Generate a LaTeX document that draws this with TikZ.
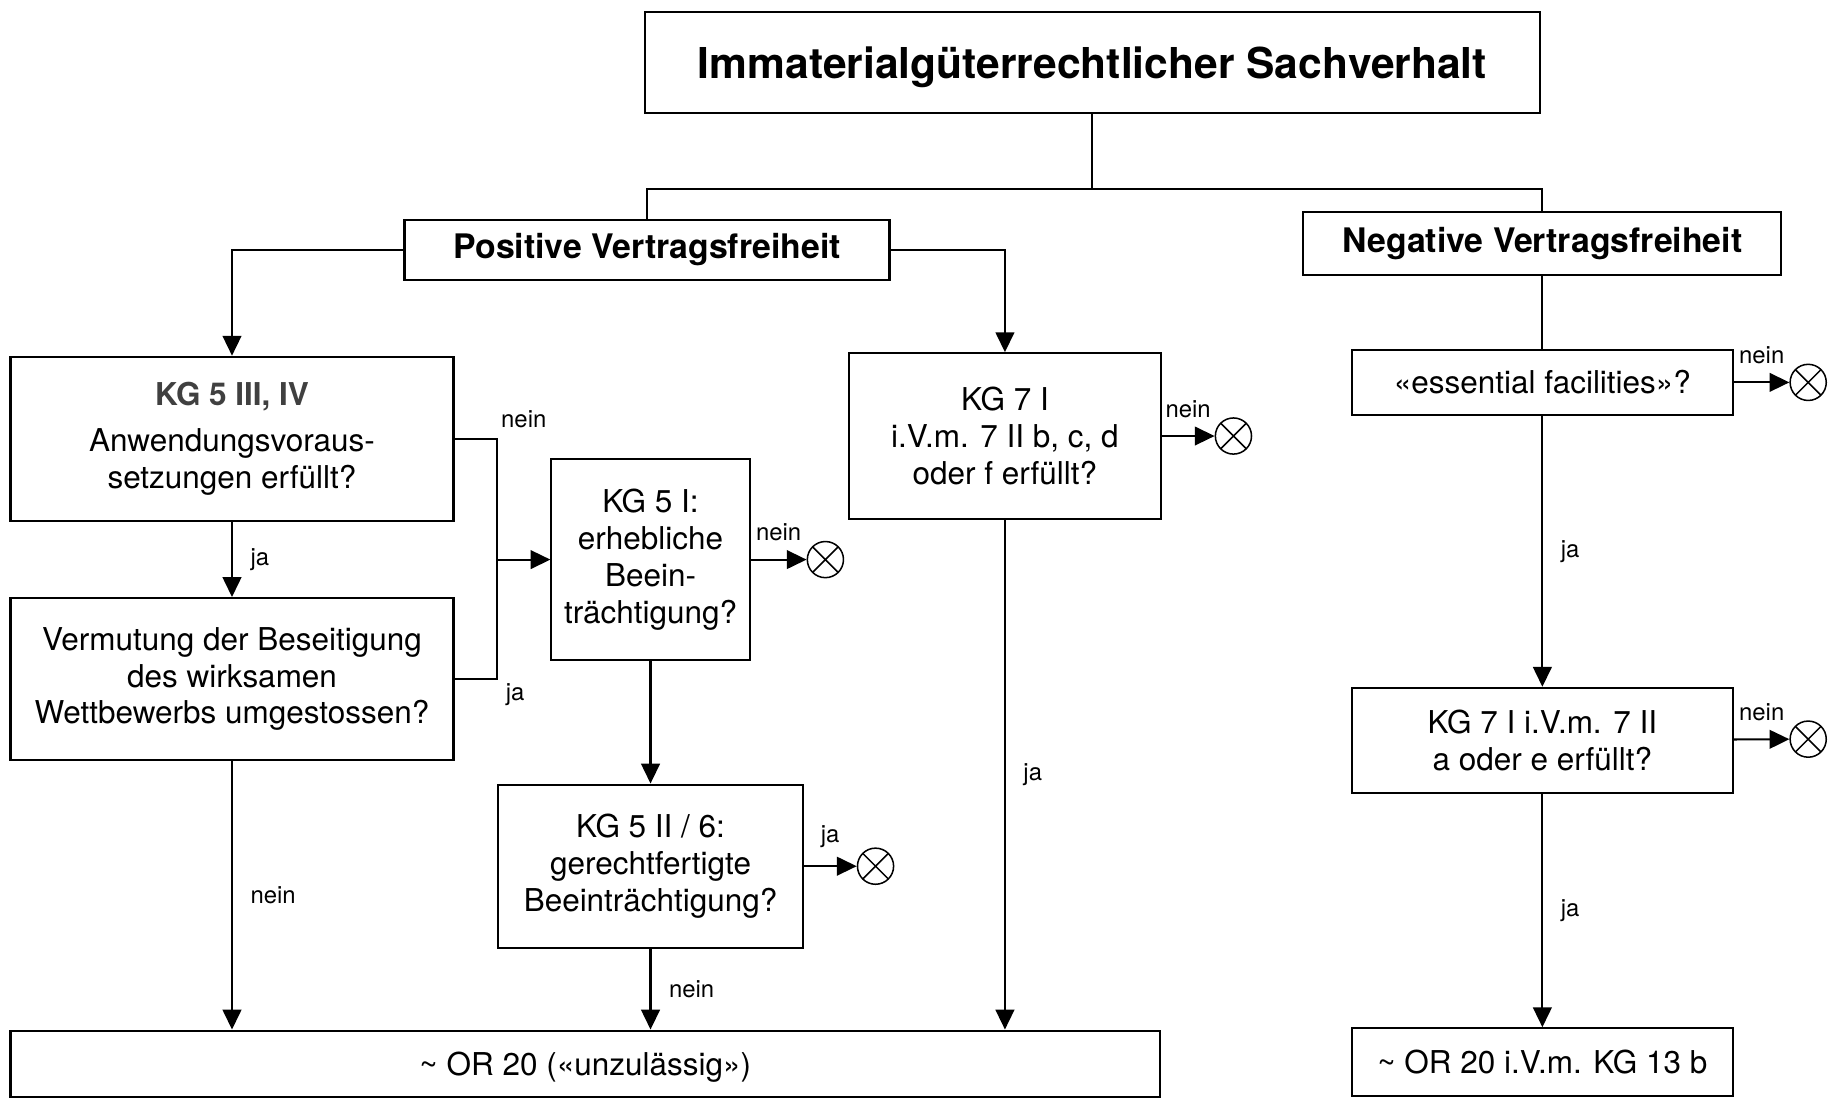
\documentclass[tikz,border=0pt]{standalone}
\usepackage{fontspec}
\setmainfont{TeX Gyre Heros}
\usepackage{tikz}
\usetikzlibrary{arrows.meta,positioning,calc}

\begin{document}
\begin{tikzpicture}[x=1pt,y=-1pt,>={Triangle[length=17pt,width=16pt]},line width=1.8pt,
  box/.style={draw,align=center,inner sep=4pt,font=\fontsize{27}{31.5}\selectfont},
  head/.style={box,font=\fontsize{29}{34}\selectfont\bfseries},
  lbl/.style={font=\fontsize{20.5}{24}\selectfont,inner sep=3pt},
  nogo/.style={draw,circle,minimum size=31,inner sep=0pt,line width=1.3pt,
    path picture={\draw[line width=1.3pt]
      (path picture bounding box.north west) -- (path picture bounding box.south east)
      (path picture bounding box.north east) -- (path picture bounding box.south west);}}]
  \useasboundingbox (0,0) rectangle (1568,942);

  % top
  \node[box,font=\fontsize{36.5}{40}\selectfont\bfseries,text depth=0pt,minimum width=768,minimum height=87] (sach) at (937,53.5) {Immaterialgüterrechtlicher Sachverhalt};
  \node[head,minimum width=416,minimum height=51] (pos) at (555,214.5) {Positive Vertragsfreiheit};
  \node[head,minimum width=410,minimum height=54] (neg) at (1323,209) {Negative Vertragsfreiheit};
  \coordinate (split) at (937,162);
  \draw (sach) -- (split);
  \draw (pos.north) |- (split) -| (neg.north);

  % positive side
  \node[box,minimum width=380,minimum height=141] (kgA) at (199,376.5)
    {{\bfseries\color{black!75}KG 5 III, IV}\\[8pt]Anwendungsvoraus-\\setzungen erfüllt?};
  \node[box,minimum width=380,minimum height=139] (verm) at (199,582.5)
    {Vermutung der Beseitigung\\des wirksamen\\Wettbewerbs umgestossen?};
  \node[box,minimum width=170,minimum height=172] (kgB) at (558,480)
    {KG 5 I:\\erhebliche\\Beein-\\trächtigung?};
  \node[box,minimum width=261,minimum height=140] (kgC) at (558,743)
    {KG 5 II / 6:\\gerechtfertigte\\Beeinträchtigung?};
  \node[box,minimum width=267,minimum height=142] (kgD) at (862,374)
    {KG 7 I\\i.V.m. 7 II b, c, d\\oder f erfüllt?};
  \node[box,text depth=0pt,minimum width=986,minimum height=57] (orA) at (502,912.5)
    {\textasciitilde{} OR 20 («unzulässig»)};
  \node[nogo] (xA) at (708,480) {};
  \node[nogo] (xB) at (751,743) {};
  \node[nogo] (xC) at (1058,374) {};

  \draw[->] (pos.west) -| (kgA.north);
  \draw[->] (pos.east) -| (kgD.north);
  \draw[->] (kgA) -- node[lbl,right=12pt]{ja} (verm);
  \coordinate (bus) at (426,480);
  \draw (kgA.east) -| (bus) |- (verm.east);
  \draw[->] (bus) -- (kgB.west);
  \node[lbl,above right,yshift=6pt] at (bus |- kgA.east) {nein};
  \node[lbl,below right,xshift=4pt] at (bus |- verm.east) {ja};
  \draw[->] (verm) -- node[lbl,right=12pt]{nein} (verm |- orA.north);
  \draw[->] (kgB) -- node[lbl,above=12pt]{nein} (xA);
  \draw[->] (kgB) -- (kgC);
  \draw[->] (kgC) -- node[lbl,above=12pt]{ja} (xB);
  \draw[->] (kgC) -- node[lbl,right=12pt]{nein} (kgC |- orA.north);
  \draw[->] (kgD) -- node[lbl,above=12pt]{nein} (xC);
  \draw[->] (kgD) -- node[lbl,right=12pt]{ja} (kgD |- orA.north);

  % negative side
  \node[box,minimum width=327,minimum height=56] (ess) at (1323,328) {«essential facilities»?};
  \node[box,minimum width=327,minimum height=90] (kgE) at (1323,635)
    {KG 7 I i.V.m. 7 II\\a oder e erfüllt?};
  \node[box,minimum width=327,minimum height=58] (orB) at (1323,911)
    {\textasciitilde{} OR 20 i.V.m. KG 13 b};
  \node[nogo] (xD) at (1551,328) {};
  \node[nogo] (xE) at (1551,634) {};

  \draw (neg) -- (ess);
  \draw[->] (ess) -- node[lbl,above=12pt]{nein} (xD);
  \draw[->] (ess) -- node[lbl,right=12pt]{ja} (kgE);
  \draw[->] (kgE) -- node[lbl,above=12pt]{nein} (xE);
  \draw[->] (kgE) -- node[lbl,right=12pt]{ja} (orB);
\end{tikzpicture}
\end{document}
